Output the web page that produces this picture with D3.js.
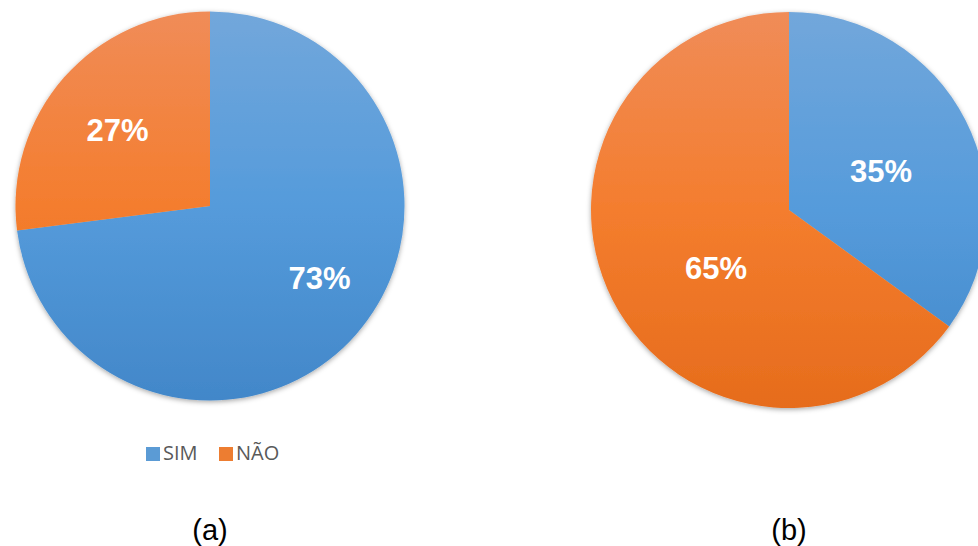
<!DOCTYPE html>
<html>
<head>
<meta charset="utf-8">
<script src="https://cdn.jsdelivr.net/npm/d3@7"></script>
<style>
  body { margin: 0; background: #fff; }
  svg { display: block; }
</style>
</head>
<body>
<script>
// data
const categories = ['SIM', 'NÃO'];
const valuesA = [73, 27];
const valuesB = [35, 65];
const panelLabels = ['(a)', '(b)'];

const width = 978, height = 546;

// small hand nudges so labels sit like the original "best fit"
const labelNudgeA = [[22, -5], [-5, 1]];
const labelNudgeB = [[-5, 10], [24, 8]];

const svg = d3.select('body').append('svg')
    .attr('width', width)
    .attr('height', height);

const defs = svg.append('defs');

// vertical gradients, lighter at top, 3 stops like office fills
const gradStops = {
    'SIM': ['#72a7db', '#559bdb', '#4287c9'],
    'NÃO': ['#f08c58', '#f47d2e', '#e66c1c']
};
const legendColor = {'SIM': '#5b9bd5', 'NÃO': '#ed7d31'};

const shadow = defs.append('filter')
    .attr('id', 'shadow')
    .attr('x', '-10%').attr('y', '-10%')
    .attr('width', '120%').attr('height', '120%');
shadow.append('feDropShadow')
    .attr('dx', 0).attr('dy', 1.5)
    .attr('stdDeviation', 2.5)
    .attr('flood-color', '#000')
    .attr('flood-opacity', 0.35);

const pie = d3.pie().sort(null).value(d => d.value);

function drawPie(name, values, nudge, cx, cy, r, labelFactor) {
    let data = categories.map((c, i) => ({cat: c, idx: i, value: values[i]}));
    let arcs = pie(data);
    let arc = d3.arc().innerRadius(0).outerRadius(r);
    let labelArc = d3.arc().innerRadius(r * labelFactor).outerRadius(r * labelFactor);

    // one gradient per category spanning the whole pie
    categories.forEach((c, i) => {
        let lg = defs.append('linearGradient')
            .attr('id', `${name}_${i}`)
            .attr('gradientUnits', 'userSpaceOnUse')
            .attr('x1', 0).attr('y1', -r)
            .attr('x2', 0).attr('y2', r);
        lg.selectAll('stop')
            .data(gradStops[c])
            .join('stop')
            .attr('offset', (d, j) => (j * 50) + '%')
            .attr('stop-color', d => d);
    });

    let g = svg.append('g')
        .attr('transform', `translate(${cx},${cy})`);

    g.append('g').attr('filter', 'url(#shadow)')
        .selectAll('path')
        .data(arcs)
        .join('path')
        .attr('d', arc)
        .attr('fill', d => `url(#${name}_${d.data.idx})`);

    g.selectAll('text')
        .data(arcs)
        .join('text')
        .attr('transform', d => {
            let [x, y] = labelArc.centroid(d);
            let n = nudge[d.data.idx];
            return `translate(${x + n[0]},${y + n[1]})`;
        })
        .attr('text-anchor', 'middle')
        .attr('dy', '0.36em')
        .style('font-family', 'Liberation Sans, Arial, sans-serif')
        .style('font-weight', 'bold')
        .style('font-size', '31px')
        .style('fill', '#fff')
        .text(d => d.data.value + '%');
}

drawPie('pa', valuesA, labelNudgeA, 210, 206, 194.5, 0.6);
drawPie('pb', valuesB, labelNudgeB, 789, 210, 198, 0.55);

// legend
const legend = svg.append('g').attr('transform', 'translate(146,447)');
const legendX = [0, 73];
categories.forEach((c, i) => {
    let item = legend.append('g').attr('transform', `translate(${legendX[i]},0)`);
    item.append('rect')
        .attr('width', 14).attr('height', 14)
        .attr('fill', legendColor[c]);
    item.append('text')
        .attr('x', 17).attr('y', 13)
        .style('font-family', 'Open Sans, sans-serif')
        .style('font-size', '20px')
        .style('fill', '#595959')
        .text(c);
});

// panel captions
svg.selectAll('.caption')
    .data(panelLabels)
    .join('text')
    .attr('class', 'caption')
    .attr('x', (d, i) => [210, 789][i])
    .attr('y', 540)
    .attr('text-anchor', 'middle')
    .style('font-family', 'Liberation Sans, Arial, sans-serif')
    .style('font-size', '29px')
    .style('fill', '#000')
    .text(d => d);
</script>
</body>
</html>
